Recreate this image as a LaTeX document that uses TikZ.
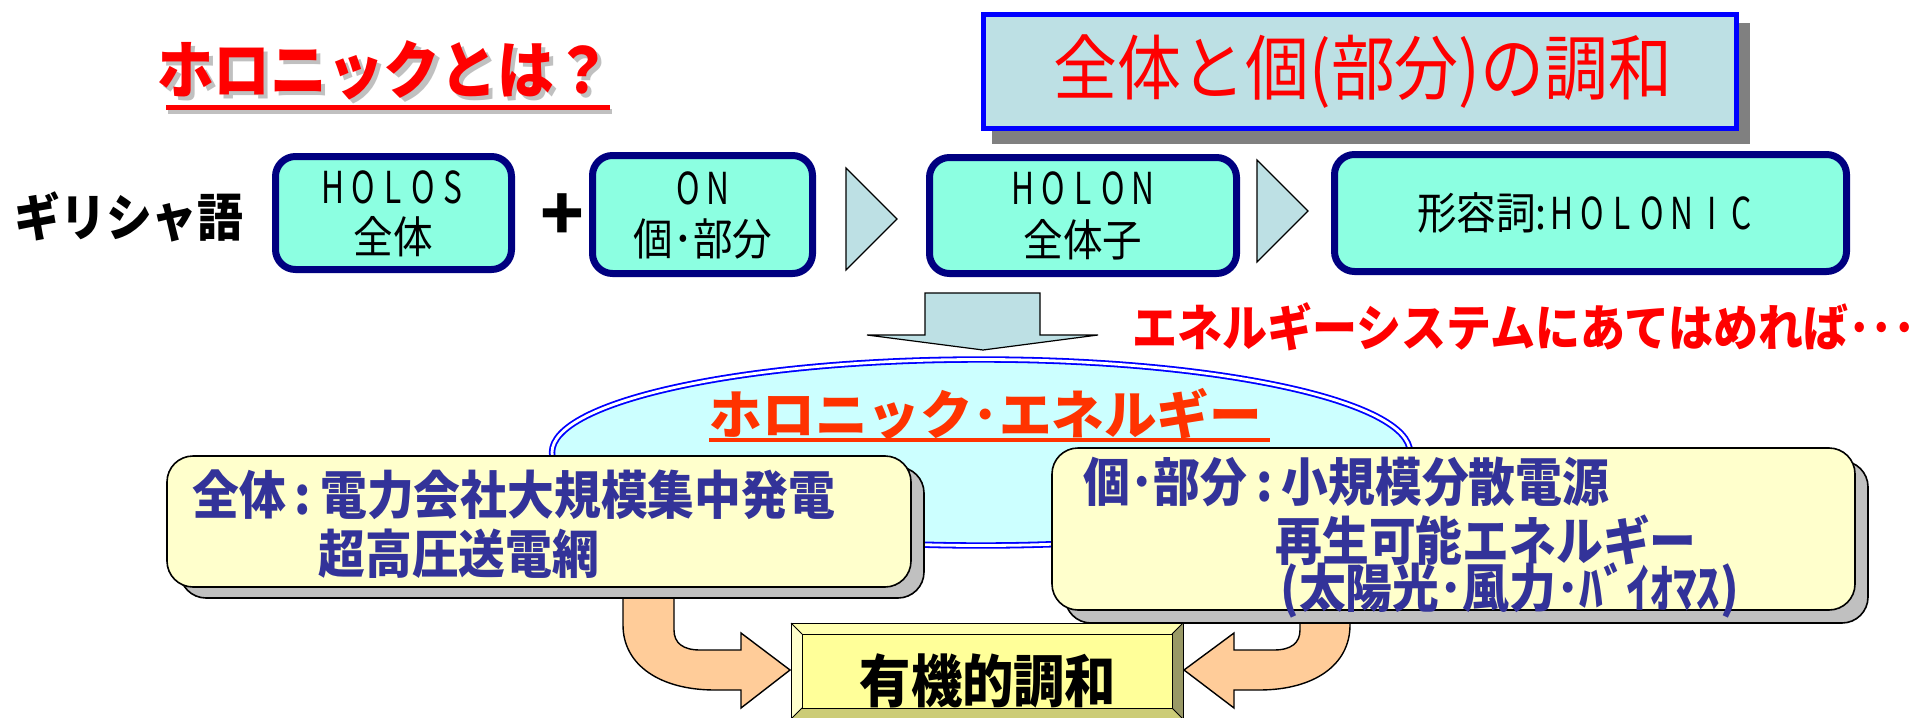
\documentclass[tikz,border=0pt]{standalone}
\usepackage{fontspec}
\usepackage{graphicx}
\setmainfont{Noto Sans CJK JP}[FakeStretch=0.9]
\newfontfamily\widef{Noto Sans CJK JP}
\usetikzlibrary{shapes.geometric}
\definecolor{navyb}{RGB}{0,0,128}
\definecolor{aquaf}{RGB}{140,255,225}
\definecolor{paleb}{RGB}{189,224,228}
\definecolor{ellf}{RGB}{204,255,255}
\definecolor{yellf}{RGB}{255,255,204}
\definecolor{shgray}{RGB}{192,192,192}
\definecolor{dkgray}{RGB}{128,128,128}
\definecolor{ntext}{RGB}{51,51,153}
\definecolor{orangef}{RGB}{255,204,153}
\definecolor{ored}{RGB}{255,51,0}
\definecolor{bevface}{RGB}{255,255,153}
\definecolor{bevtop}{RGB}{255,255,176}
\definecolor{bevleft}{RGB}{255,255,204}
\definecolor{bevright}{RGB}{153,153,102}
\definecolor{bevbot}{RGB}{204,204,119}
\newcommand\hch[1]{\makebox[15pt]{\scalebox{0.8}[1]{#1}}}
\newcommand\cln{\hspace{4.5pt}:\hspace{4.5pt}}
\begin{document}
\begin{tikzpicture}[x=0.5pt,y=-0.5pt,
  aquabox/.style={draw=navyb, line width=3.5pt, fill=aquaf, rounded corners=10pt, inner sep=0pt},
  tri/.style={draw=black, line width=0.6pt, fill=paleb},
  ybox/.style={draw=black, line width=0.8pt, fill=yellf, rounded corners=13pt, inner sep=0pt},
  yshadow/.style={draw=black, line width=0.8pt, fill=shgray, rounded corners=13pt, inner sep=0pt},
  ytext/.style={text=ntext, font=\fontsize{26}{28}\selectfont\bfseries, anchor=west, inner sep=0pt},
  btext/.style={font=\fontsize{22}{24}\selectfont, inner sep=0pt},
  oarrow/.style={draw=black, line width=0.7pt, fill=orangef},
  bevel/.style={draw=black, line width=0.5pt},
]
\useasboundingbox (0,0) rectangle (1926,717);
\fill[white] (0,0) rectangle (1926,717);

% title
\node[text=shgray, font=\fontsize{31.5}{34}\selectfont\bfseries, inner sep=0pt] (titlesh) at (388,74) {ホロニックとは？};
\node[text=red, font=\fontsize{31.5}{34}\selectfont\bfseries, inner sep=0pt] (title) at (384,70) {ホロニックとは？};
\draw[shgray, line width=2.5pt] (168,112) -- (612,112);
\draw[red, line width=2.5pt] (166,108) -- (610,108);

% top box
\node[fill=dkgray, minimum width=379pt, minimum height=60pt, inner sep=0pt] (topsh) at (1371,83.5) {};
\node[draw=blue, line width=2.5pt, fill=paleb, minimum width=376.5pt, minimum height=57pt, inner sep=0pt] (topbox) at (1360,71.5) {};
\node[text=red, font=\fontsize{35.5}{37}\selectfont, inner sep=0pt] (toptext) at (1363,72) {全体と個(部分)の調和};

% row
\node[font=\fontsize{25.5}{28}\selectfont\bfseries, inner sep=0pt] (greek) at (129,217) {ギリシャ語};
\node[aquabox, minimum width=118pt, minimum height=56.5pt] (holos) at (393.5,213) {};
\node[btext] (holosA) at (393,187) {\hch{H}\hch{O}\hch{L}\hch{O}\hch{S}};
\node[btext] (holosB) at (393,237) {全体};
\node[font=\widef\fontsize{36}{36}\selectfont\bfseries, inner sep=0pt] (plus) at (562,217) {+};
\node[aquabox, minimum width=110pt, minimum height=59pt] (on) at (702.5,214.5) {};
\node[btext] (onA) at (703,188) {\hch{O}\hch{N}};
\node[btext] (onB) at (703,239) {個･部分};
\draw[tri] (846,168) -- (897,219) -- (846,270) -- cycle;
\node[aquabox, minimum width=153.5pt, minimum height=58pt] (holon) at (1083,215.5) {};
\node[btext] (holonA) at (1083,188) {\hch{H}\hch{O}\hch{L}\hch{O}\hch{N}};
\node[btext] (holonB) at (1083,240) {全体子};
\draw[tri] (1257,160) -- (1308,211) -- (1257,262) -- cycle;
\node[aquabox, minimum width=256pt, minimum height=58.5pt] (adj) at (1590.5,213) {};
\node[btext] (adjA) at (1587,213) {形容詞:\hch{H}\hch{O}\hch{L}\hch{O}\hch{N}\hch{I}\hch{C}};

% down arrow
\draw[tri] (925,293) -- (1040,293) -- (1040,335) -- (1098,335) -- (983,350) -- (867,335) -- (925,335) -- cycle;
\node[text=red, font=\fontsize{25}{27}\selectfont\bfseries, anchor=west, inner sep=0pt] (apply) at (1132,327) {エネルギーシステムにあてはめれば･･･};

% ellipse
\node[ellipse, draw=blue, double=white, line width=0.9pt, double distance=1.4pt, fill=ellf, minimum width=429pt, minimum height=93pt, inner sep=0pt] (ell) at (981,452.5) {};
\node[text=ored, font=\widef\fontsize{26.3}{28}\selectfont\bfseries, inner sep=0pt] (holeng) at (986,414) {ホロニック･エネルギー};
\draw[ored, line width=2pt] (709,440) -- (1270,440);

% orange arrows
\draw[oarrow] (623,590) -- (623,625) .. controls (623,665) and (660,690) .. (715,690) -- (741,690) -- (741,708) -- (790,670) -- (741,633) -- (741,650) -- (700,650) .. controls (683,650) and (674,643) .. (674,630) -- (674,590) -- cycle;
\draw[oarrow] (1300,612) -- (1300,630) .. controls (1300,643) and (1291,650) .. (1274,650) -- (1234,650) -- (1234,633) -- (1184,670) -- (1234,708) -- (1234,690) -- (1259,690) .. controls (1314,690) and (1350,665) .. (1350,625) -- (1350,612) -- cycle;

% yellow boxes
\node[yshadow, minimum width=372pt, minimum height=65.5pt] (lboxsh) at (552,532.5) {};
\node[ybox, minimum width=372pt, minimum height=65.5pt] (lbox) at (539,521.5) {};
\node[ytext] (l1) at (192,495) {全体\cln 電力会社大規模集中発電};
\node[ytext] (l2) at (318,554) {超高圧送電網};
\node[yshadow, minimum width=401.5pt, minimum height=81pt] (rboxsh) at (1466.5,542) {};
\node[ybox, minimum width=401.5pt, minimum height=81pt] (rbox) at (1453.5,529) {};
\node[ytext] (r1) at (1083,482) {個･部分\cln 小規模分散電源};
\node[ytext] (r2) at (1275,540) {再生可能エネルギー};
\node[ytext] (r3) at (1280,590) {(太陽光･風力･ﾊﾞｲｵﾏｽ)};

% bevel box
\fill[bevtop] (791,623) -- (1183,623) -- (1172,634) -- (802,634) -- cycle;
\fill[bevleft] (791,623) -- (802,634) -- (802,708) -- (791,719) -- cycle;
\fill[bevright] (1183,623) -- (1172,634) -- (1172,708) -- (1183,719) -- cycle;
\fill[bevbot] (791,719) -- (802,708) -- (1172,708) -- (1183,719) -- cycle;
\draw[bevel] (791,623) rectangle (1183,719);
\draw[bevel] (791,623) -- (802,634) (1183,623) -- (1172,634) (791,719) -- (802,708) (1183,719) -- (1172,708);
\node[fill=bevface, bevel, minimum width=185pt, minimum height=37pt, inner sep=0pt] (organic) at (987,671) {};
\node[font=\fontsize{28.5}{30}\selectfont\bfseries, inner sep=0pt] (orgtext) at (988,681) {有機的調和};
\end{tikzpicture}
\end{document}
